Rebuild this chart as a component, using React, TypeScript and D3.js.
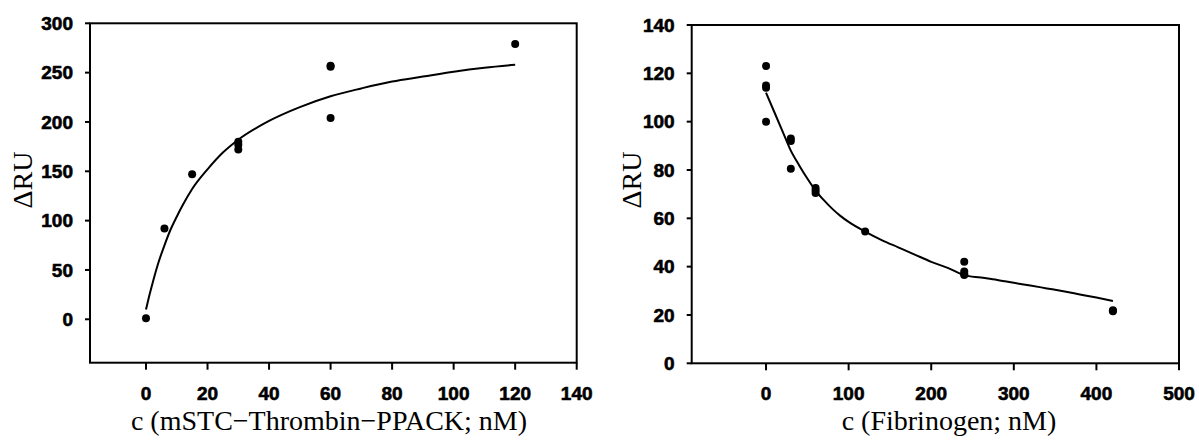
import React from "react";
import * as d3 from "d3";

// Left panel: mSTC–Thrombin–PPACK
const leftPointsX = [0, 6, 15, 30, 30, 30, 60, 60, 60, 120];
const leftPointsY = [1, 92, 147, 180, 177, 172, 257, 256, 204, 279];
const leftCurveX = [0, 1, 2, 4, 6, 8, 10, 12, 15, 20, 25, 30, 40, 50, 60, 70, 80, 90, 100, 110, 120];
const leftCurveY = [10, 23, 35, 57, 75, 91, 104, 116, 132, 152, 169, 182, 201, 215, 226, 234, 241, 246, 251, 255, 258];
const leftXTicks = [0, 20, 40, 60, 80, 100, 120, 140];
const leftYTicks = [0, 50, 100, 150, 200, 250, 300];

// Right panel: Fibrinogen
const rightPointsX = [0, 0, 0, 0, 30, 30, 30, 60, 60, 60, 120, 240, 240, 240, 240, 420, 420];
const rightPointsY = [123, 115, 114, 100, 93, 92, 80.5, 72.5, 71.5, 70.5, 54.5, 42, 38, 37, 36.5, 22, 21.5];
const rightCurveX = [0, 10, 20, 30, 40, 50, 60, 70, 80, 90, 100, 120, 140, 160, 180, 200, 220, 240, 260, 280, 300, 320, 340, 360, 380, 400, 420];
const rightCurveY = [112, 104, 96, 88, 82, 76.5, 71.5, 67.5, 64, 61, 58.5, 54.5, 51, 48, 45, 42, 39.5, 36.5, 35.5, 34.5, 33.3, 32.2, 31, 29.8, 28.5, 27.2, 25.8];
const rightXTicks = [0, 100, 200, 300, 400, 500];
const rightYTicks = [0, 20, 40, 60, 80, 100, 120, 140];

interface PanelProps {
  x0: number; x1: number; y0: number; y1: number;
  xDomain: [number, number]; yDomain: [number, number];
  px: number[]; py: number[]; cx: number[]; cy: number[];
  xTicks: number[]; yTicks: number[];
  xTitle: string; yTitleX: number; yTitleY: number; xTitleX: number;
}

function Panel(p: PanelProps) {
  const xs = d3.scaleLinear().domain(p.xDomain).range([p.x0, p.x1]);
  const ys = d3.scaleLinear().domain(p.yDomain).range([p.y1, p.y0]);
  const line = d3
    .line<number>()
    .x((_, i) => xs(p.cx[i]))
    .y((d) => ys(d))
    .curve(d3.curveMonotoneX);
  const tickFont = "'Liberation Sans', Arial, sans-serif";
  const titleFont = "'Liberation Serif', 'Times New Roman', serif";
  return (
    <g>
      <rect x={p.x0} y={p.y0} width={p.x1 - p.x0} height={p.y1 - p.y0} fill="none" stroke="#000" strokeWidth={2} />
      {p.yTicks.map((t) => (
        <g key={"y" + t}>
          <line x1={p.x0 - 5} x2={p.x0} y1={ys(t)} y2={ys(t)} stroke="#000" strokeWidth={2} />
          <text x={p.x0 - 17} y={ys(t)} dy="0.36em" textAnchor="end" fontFamily={tickFont} fontWeight="bold" fontSize={19} stroke="#000" strokeWidth={0.6}>
            {t}
          </text>
        </g>
      ))}
      {p.xTicks.map((t) => (
        <g key={"x" + t}>
          <line x1={xs(t)} x2={xs(t)} y1={p.y1} y2={p.y1 + 7} stroke="#000" strokeWidth={2} />
          <text x={xs(t)} y={p.y1 + 37} textAnchor="middle" fontFamily={tickFont} fontWeight="bold" fontSize={19} stroke="#000" strokeWidth={0.6}>
            {t}
          </text>
        </g>
      ))}
      <path d={line(p.cy) || ""} fill="none" stroke="#000" strokeWidth={2} />
      {p.px.map((v, i) => (
        <circle key={"p" + i} cx={xs(v)} cy={ys(p.py[i])} r={4} fill="#000" />
      ))}
      <text x={p.xTitleX} y={430} textAnchor="middle" fontFamily={titleFont} fontSize={28}>
        {p.xTitle}
      </text>
      <text
        transform={`translate(${p.yTitleX},${p.yTitleY}) rotate(-90)`}
        textAnchor="middle"
        fontFamily={titleFont}
        fontSize={28}
      >
        ΔRU
      </text>
    </g>
  );
}

export default function App() {
  return (
    <svg width={1199} height={441} style={{ position: "absolute", left: 0, top: 0, background: "#fff" }}>
      <rect width={1199} height={441} fill="#fff" />
      <Panel
        x0={90} x1={576.7} y0={23.3} y1={362.7}
        xDomain={[-18.2, 140]} yDomain={[-44, 300]}
        px={leftPointsX} py={leftPointsY} cx={leftCurveX} cy={leftCurveY}
        xTicks={leftXTicks} yTicks={leftYTicks}
        xTitle="c (mSTC−Thrombin−PPACK; nM)" xTitleX={329}
        yTitleX={32} yTitleY={180}
      />
      <Panel
        x0={691.7} x1={1179} y0={25} y1={363.3}
        xDomain={[-90, 500]} yDomain={[0, 140]}
        px={rightPointsX} py={rightPointsY} cx={rightCurveX} cy={rightCurveY}
        xTicks={rightXTicks} yTicks={rightYTicks}
        xTitle="c (Fibrinogen; nM)" xTitleX={949}
        yTitleX={641} yTitleY={180}
      />
    </svg>
  );
}
